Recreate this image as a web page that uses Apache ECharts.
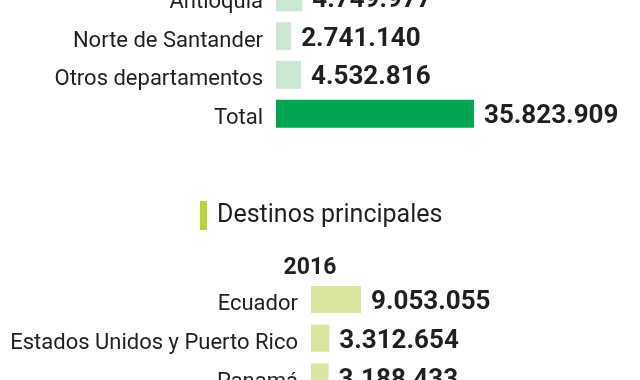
<!DOCTYPE html>
<html>
<head>
<meta charset="utf-8">
<script src="https://cdn.jsdelivr.net/npm/echarts@6/dist/echarts.min.js"></script>
<style>
html,body{margin:0;padding:0;background:#fff;}
#c{width:640px;height:380px;}
</style>
</head>
<body>
<div id="c"></div>
<script>
var topCats = ['Antioquia', 'Norte de Santander', 'Otros departamentos', 'Total'];
var topVals = [4749977, 2741140, 4532816, 35823909];
var destTitle = 'Destinos principales';
var destYear = '2016';
var destCats = ['Ecuador', 'Estados Unidos y Puerto Rico', 'Panamá'];
var destVals = [9053055, 3312654, 3188433];

var FONT = "Roboto, 'Liberation Sans', sans-serif";
var TXT = '#231f20';
function fmt(v) { return String(v).replace(/\B(?=(\d{3})+(?!\d))/g, '.'); }

var chart = echarts.init(document.getElementById('c'), null, {renderer: 'canvas'});
var catLabel = {margin: 13, interval: 0,
  formatter: function (v) { return '{a|' + v + '}'; },
  rich: {a: {color: TXT, fontFamily: FONT, fontSize: 22, padding: [10, 0, 0, 0]}}};
var valLabel = {show: true, position: 'right', distance: 10,
  formatter: function (p) { return '{a|' + fmt(p.value) + '}'; },
  rich: {a: {color: TXT, fontFamily: FONT, fontSize: 26, fontWeight: 'bold', padding: [6, 0, 0, 0]}}};

chart.setOption({
  animation: false,
  backgroundColor: '#fff',
  title: [
    {text: destTitle, left: 212, top: 198, textStyle: {color: TXT, fontFamily: FONT, fontSize: 25, fontWeight: 'normal'}},
    {text: destYear, left: 305, textAlign: 'center', top: 252, textStyle: {color: TXT, fontFamily: FONT, fontSize: 23, fontWeight: 'bold'}}
  ],
  graphic: [
    {type: 'rect', shape: {x: 200, y: 201, width: 7, height: 29}, style: {fill: '#b8d432'}}
  ],
  grid: [
    {left: 276, top: -22, width: 331.6, height: 155, outerBoundsMode: 'none', containLabel: false},
    {left: 311, top: 280, width: 331.6, height: 116.4, outerBoundsMode: 'none', containLabel: false}
  ],
  xAxis: [
    {gridIndex: 0, type: 'value', min: 0, max: 60000000, show: false},
    {gridIndex: 1, type: 'value', min: 0, max: 60000000, show: false}
  ],
  yAxis: [
    {gridIndex: 0, type: 'category', inverse: true, data: topCats, axisLine: {show: false}, axisTick: {show: false}, axisLabel: catLabel},
    {gridIndex: 1, type: 'category', inverse: true, data: destCats, axisLine: {show: false}, axisTick: {show: false}, axisLabel: catLabel}
  ],
  series: [
    {type: 'bar', xAxisIndex: 0, yAxisIndex: 0, barWidth: 28,
     data: topVals.map(function (v, i) { return {value: v, itemStyle: {color: i === topVals.length - 1 ? '#00a651' : '#cce7d4'}}; }),
     label: valLabel},
    {type: 'bar', xAxisIndex: 1, yAxisIndex: 1, barWidth: 27, itemStyle: {color: '#d7e59f'},
     data: destVals, label: valLabel}
  ]
});
</script>
</body>
</html>
